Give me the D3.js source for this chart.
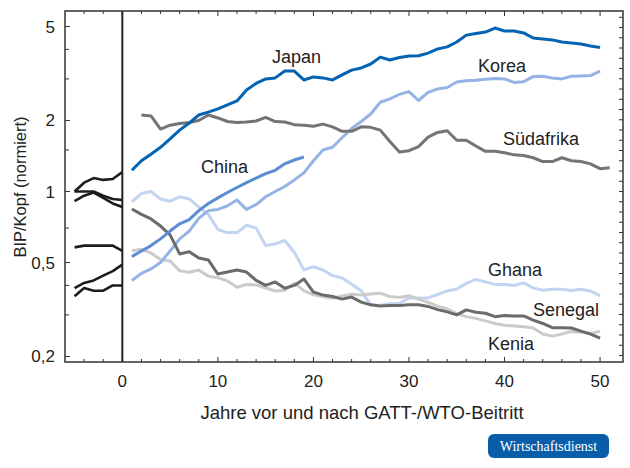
<!DOCTYPE html>
<html>
<head>
<meta charset="utf-8">
<script src="https://cdn.jsdelivr.net/npm/d3@7/dist/d3.min.js"></script>
<style>
  body { margin: 0; background: #fff; }
  svg text { font-family: "Liberation Sans", Arial, Helvetica, sans-serif; fill: #222; }
</style>
</head>
<body>
<script>
// years before accession (-5 .. 0)
var yearsPre = [-5, -4, -3, -2, -1, 0];

// BIP/Kopf (normiert), before accession
var japanPre   = [1.0, 1.09, 1.14, 1.12, 1.13, 1.21];
var ghanaPre   = [1.0, 1.0, 1.0, 0.96, 0.93, 0.92];
var senegalPre = [0.91, 0.96, 0.99, 0.94, 0.89, 0.86];
var keniaPre   = [0.58, 0.59, 0.59, 0.59, 0.59, 0.56];
var chinaPre   = [0.39, 0.41, 0.42, 0.44, 0.46, 0.49];
var koreaPre   = [0.36, 0.39, 0.38, 0.38, 0.40, 0.40];

// after accession, first year given in the name's start value
var japanStart = 1;
var japan = [1.23,1.35,1.44,1.54,1.67,1.82,1.95,2.11,2.17,2.24,2.33,2.42,2.69,2.87,3.0,3.03,3.24,3.24,2.97,3.06,
             3.03,2.97,3.12,3.27,3.34,3.47,3.71,3.61,3.70,3.75,3.76,3.86,4.02,4.10,4.30,4.60,4.67,4.74,4.93,4.79,
             4.79,4.70,4.47,4.43,4.39,4.30,4.26,4.22,4.14,4.08];
var koreaStart = 1;
var korea = [0.42,0.45,0.47,0.50,0.56,0.63,0.68,0.77,0.83,0.84,0.87,0.92,0.84,0.88,0.95,1.0,1.05,1.12,1.20,1.35,
             1.50,1.54,1.69,1.85,1.98,2.13,2.39,2.47,2.58,2.65,2.43,2.63,2.72,2.76,2.91,2.95,2.96,2.99,3.01,3.0,
             2.90,2.92,3.07,3.08,3.03,3.0,3.08,3.09,3.10,3.24];
var chinaStart = 1;
var china = [0.53,0.56,0.59,0.63,0.68,0.73,0.76,0.83,0.89,0.94,0.99,1.04,1.09,1.14,1.19,1.23,1.31,1.36,1.40];
var suedafrikaStart = 2;
var suedafrika = [2.11,2.09,1.84,1.91,1.94,1.96,2.0,2.11,2.05,1.98,1.96,1.97,1.99,2.06,1.98,1.97,1.92,1.91,1.89,1.93,
                  1.88,1.80,1.80,1.88,1.87,1.82,1.63,1.47,1.49,1.55,1.70,1.78,1.81,1.65,1.65,1.56,1.48,1.48,1.46,1.43,
                  1.42,1.39,1.34,1.34,1.39,1.35,1.34,1.31,1.25,1.26];
var ghanaStart = 1;
var ghana = [0.905,0.98,1.0,0.93,0.91,0.95,0.93,0.86,0.80,0.69,0.67,0.67,0.72,0.70,0.59,0.60,0.62,0.553,0.466,0.48,
             0.465,0.44,0.43,0.405,0.38,0.33,0.33,0.335,0.336,0.354,0.354,0.354,0.366,0.379,0.386,0.408,0.424,0.414,0.404,0.404,
             0.40,0.41,0.39,0.382,0.385,0.385,0.381,0.385,0.379,0.361];
var senegalStart = 1;
var senegal = [0.843,0.80,0.765,0.714,0.655,0.544,0.556,0.523,0.513,0.447,0.456,0.465,0.456,0.42,0.40,0.414,0.389,0.40,0.426,0.375,
               0.364,0.359,0.35,0.357,0.34,0.331,0.327,0.329,0.329,0.331,0.331,0.326,0.316,0.309,0.30,0.315,0.308,0.305,0.295,0.298,
               0.297,0.297,0.285,0.276,0.265,0.265,0.264,0.256,0.249,0.239];
var keniaStart = 1;
var kenia = [0.561,0.569,0.549,0.515,0.508,0.461,0.455,0.465,0.438,0.431,0.418,0.393,0.404,0.402,0.39,0.379,0.382,0.409,0.38,0.365,
             0.358,0.353,0.361,0.367,0.364,0.368,0.371,0.359,0.356,0.362,0.35,0.339,0.327,0.318,0.303,0.295,0.29,0.283,0.276,0.271,
             0.269,0.267,0.264,0.249,0.244,0.249,0.255,0.253,0.25,0.256];

// tick labels
var xTicks = [0, 10, 20, 30, 40, 50];
var yTicks = [0.2, 0.5, 1, 2, 5];
var yMinorTicks = [0.3, 0.4, 0.7, 1.5, 3, 4];

window.onload = drawChart();

function drawChart(){

    var width = 630,
        height = 468;

    var margin = {top: 11, right: 7, bottom: 106, left: 65};

    var svg = d3.select("body")
        .append("svg")
        .attr("width", width)
        .attr("height", height);

    var x = d3.scaleLinear()
        .domain([-6, 52.4])
        .range([margin.left, width - margin.right]);

    var y = d3.scaleLog()
        .domain([0.1895, 5.82])
        .range([height - margin.bottom, margin.top]);

    var fmt = function(d){ return String(d).replace(".", ","); };

    //bottom axis, ticks every 2 years pointing inward
    var evenYears = d3.range(-4, 51, 2);
    svg.append("g")
        .attr("transform", "translate(0," + (height - margin.bottom) + ")")
        .selectAll("line")
        .data(evenYears)
        .enter()
        .append("line")
        .attr("x1", function(d){ return x(d); })
        .attr("x2", function(d){ return x(d); })
        .attr("y1", 0)
        .attr("y2", function(d){ return d % 10 === 0 ? -5 : -3; })
        .attr("stroke", "#333")
        .attr("stroke-width", 1);

    //top axis
    svg.append("g")
        .attr("transform", "translate(0," + margin.top + ")")
        .selectAll("line")
        .data(evenYears)
        .enter()
        .append("line")
        .attr("x1", function(d){ return x(d); })
        .attr("x2", function(d){ return x(d); })
        .attr("y1", 0)
        .attr("y2", function(d){ return d % 10 === 0 ? 5 : 3; })
        .attr("stroke", "#333")
        .attr("stroke-width", 1);

    //x tick labels
    svg.append("g")
        .selectAll("text")
        .data(xTicks)
        .enter()
        .append("text")
        .attr("x", function(d){ return x(d); })
        .attr("y", 387)
        .attr("text-anchor", "middle")
        .style("font-size", "17px")
        .text(function(d){ return d; });

    //left axis ticks
    svg.append("g")
        .selectAll("line")
        .data(yTicks.concat(yMinorTicks))
        .enter()
        .append("line")
        .attr("x1", margin.left)
        .attr("x2", function(d){ return margin.left + (yTicks.indexOf(d) >= 0 ? 5 : 4); })
        .attr("y1", function(d){ return y(d); })
        .attr("y2", function(d){ return y(d); })
        .attr("stroke", "#333")
        .attr("stroke-width", 1);

    svg.append("g")
        .selectAll("text")
        .data(yTicks)
        .enter()
        .append("text")
        .attr("x", 55)
        .attr("y", function(d){ return y(d) + 6; })
        .attr("text-anchor", "end")
        .style("font-size", "17px")
        .text(fmt);

    //right axis, ticks at 0.1 steps of ln
    var lnTicks = d3.range(-16, 18).map(function(k){ return Math.exp(k / 10); });
    svg.append("g")
        .selectAll("line")
        .data(lnTicks)
        .enter()
        .append("line")
        .attr("x1", width - margin.right)
        .attr("x2", width - margin.right - 4)
        .attr("y1", function(d){ return y(d); })
        .attr("y2", function(d){ return y(d); })
        .attr("stroke", "#333")
        .attr("stroke-width", 1);

    //series
    var line = d3.line()
        .x(function(d){ return x(d[0]); })
        .y(function(d){ return y(d[1]); });

    function pairs(start, vals){
        return vals.map(function(v, i){ return [start + i, v]; });
    }
    function prePairs(vals){
        return vals.map(function(v, i){ return [yearsPre[i], v]; });
    }

    var series = [
        {data: pairs(ghanaStart, ghana), color: "#c3d4f1"},
        {data: pairs(keniaStart, kenia), color: "#cbcbcb"},
        {data: pairs(koreaStart, korea), color: "#95b3e5"},
        {data: pairs(senegalStart, senegal), color: "#6b6b6b"},
        {data: pairs(chinaStart, china), color: "#5a8dd3"},
        {data: pairs(suedafrikaStart, suedafrika), color: "#747474"},
        {data: pairs(japanStart, japan), color: "#0464b4"}
    ];

    svg.append("g")
        .selectAll("path")
        .data(series)
        .enter()
        .append("path")
        .attr("d", function(d){ return line(d.data); })
        .attr("fill", "none")
        .attr("stroke", function(d){ return d.color; })
        .attr("stroke-width", 3)
        .attr("stroke-linejoin", "round");

    var pre = [japanPre, ghanaPre, senegalPre, keniaPre, chinaPre, koreaPre];
    svg.append("g")
        .selectAll("path")
        .data(pre)
        .enter()
        .append("path")
        .attr("d", function(d){ return line(prePairs(d)); })
        .attr("fill", "none")
        .attr("stroke", "#1c1c1c")
        .attr("stroke-width", 2.6)
        .attr("stroke-linejoin", "round");

    //accession line
    svg.append("line")
        .attr("x1", x(0))
        .attr("x2", x(0))
        .attr("y1", margin.top)
        .attr("y2", height - margin.bottom)
        .attr("stroke", "#222")
        .attr("stroke-width", 2);

    //frame
    svg.append("rect")
        .attr("x", margin.left)
        .attr("y", margin.top)
        .attr("width", width - margin.left - margin.right)
        .attr("height", height - margin.top - margin.bottom)
        .attr("fill", "none")
        .attr("stroke", "#333")
        .attr("stroke-width", 1.5);

    //country labels
    var labels = [
        {t: "Japan", x: 272, y: 63},
        {t: "Korea", x: 478, y: 72},
        {t: "Südafrika", x: 503, y: 145},
        {t: "China", x: 201, y: 173},
        {t: "Ghana", x: 488, y: 276},
        {t: "Senegal", x: 533, y: 316},
        {t: "Kenia", x: 488, y: 350}
    ];
    svg.append("g")
        .selectAll("text")
        .data(labels)
        .enter()
        .append("text")
        .attr("x", function(d){ return d.x; })
        .attr("y", function(d){ return d.y; })
        .style("font-size", "18px")
        .text(function(d){ return d.t; });

    //axis titles
    svg.append("text")
        .attr("transform", "translate(26,187) rotate(-90)")
        .attr("text-anchor", "middle")
        .style("font-size", "16.5px")
        .text("BIP/Kopf (normiert)");

    svg.append("text")
        .attr("x", 362)
        .attr("y", 419)
        .attr("text-anchor", "middle")
        .style("font-size", "18.5px")
        .text("Jahre vor und nach GATT-/WTO-Beitritt");

    //logo
    svg.append("rect")
        .attr("x", 488)
        .attr("y", 434)
        .attr("width", 121)
        .attr("height", 24)
        .attr("rx", 6)
        .attr("fill", "#0a5ea9");

    svg.append("text")
        .attr("x", 548.5)
        .attr("y", 451)
        .attr("text-anchor", "middle")
        .style("font-family", "'Liberation Serif', 'Times New Roman', serif")
        .style("font-size", "14px")
        .style("fill", "#fff")
        .text("Wirtschaftsdienst");
};
</script>
</body>
</html>
